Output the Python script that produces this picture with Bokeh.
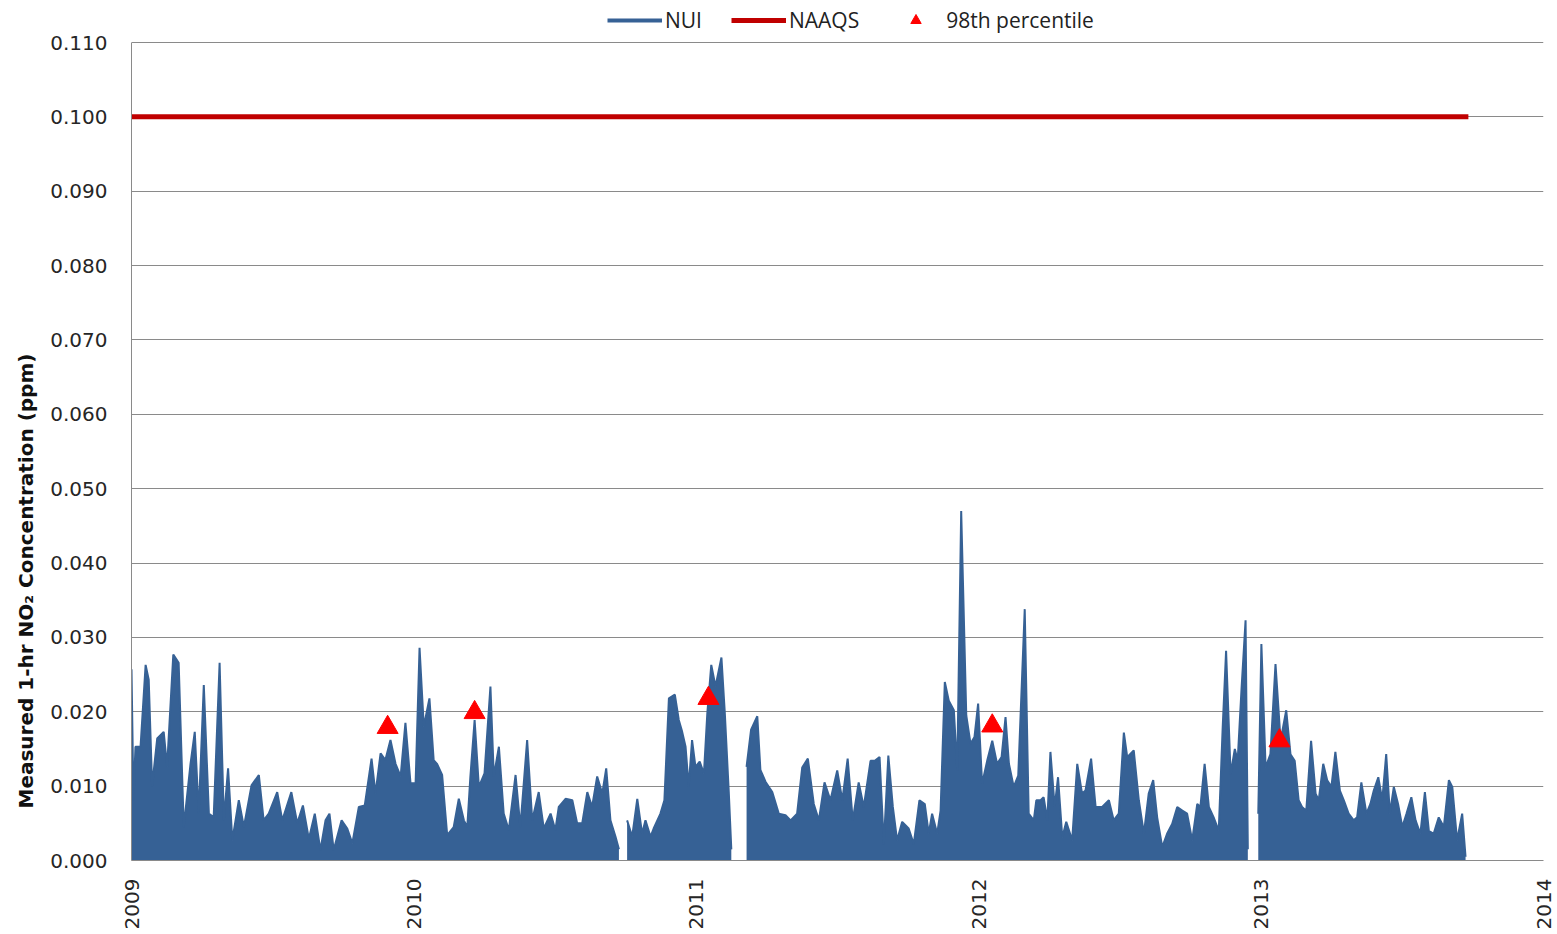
import numpy as np
from bokeh.plotting import figure
from bokeh.models import (Range1d, FixedTicker, NumeralTickFormatter, Legend, LegendItem,
                          Title, ColumnDataSource)
from bokeh.embed import file_html
from bokeh.resources import INLINE

# ---------------- data ----------------
# NUI 1-hr NO2 (ppm); x = years since 2009-01-01; four continuous stretches of record
nui_t_a = [0.000, 0.007, 0.014, 0.032, 0.050, 0.061, 0.073, 0.091, 0.114, 0.126, 0.148, 0.167, 0.185, 0.209,
           0.224, 0.238, 0.256, 0.274, 0.291, 0.312, 0.327, 0.342, 0.357, 0.380, 0.398, 0.425, 0.451, 0.468,
           0.486, 0.516, 0.534, 0.566, 0.587, 0.607, 0.628, 0.649, 0.669, 0.687, 0.701, 0.716, 0.744, 0.764,
           0.782, 0.805, 0.826, 0.850, 0.864, 0.882, 0.899, 0.917, 0.935, 0.953, 0.970, 0.988, 1.006, 1.020,
           1.035, 1.055, 1.070, 1.082, 1.100, 1.118, 1.141, 1.159, 1.177, 1.189, 1.200, 1.215, 1.230, 1.250,
           1.271, 1.283, 1.301, 1.318, 1.336, 1.360, 1.377, 1.401, 1.419, 1.442, 1.460, 1.484, 1.501, 1.513,
           1.537, 1.561, 1.578, 1.596, 1.614, 1.631, 1.649, 1.667, 1.681, 1.696, 1.714, 1.726]
nui_v_a = [0.0257, 0.008, 0.0153, 0.0153, 0.0263, 0.0243, 0.010, 0.0164, 0.0173, 0.0126, 0.0277, 0.0266,
           0.0045, 0.013, 0.0173, 0.0063, 0.0236, 0.0063, 0.0058, 0.0266, 0.0054, 0.0124, 0.0027, 0.0081,
           0.0045, 0.0101, 0.0115, 0.0054, 0.0063, 0.0092, 0.0054, 0.0092, 0.005, 0.0074, 0.0029, 0.0063,
           0.0014, 0.0054, 0.0063, 0.0014, 0.0054, 0.0043, 0.0023, 0.0072, 0.0074, 0.0137, 0.009, 0.0144,
           0.0135, 0.0162, 0.013, 0.0113, 0.0185, 0.0104, 0.0104, 0.0286, 0.018, 0.0218, 0.0135, 0.013,
           0.0115, 0.0034, 0.0045, 0.0083, 0.0054, 0.0045, 0.0113, 0.0189, 0.0099, 0.0117, 0.0234, 0.0113,
           0.0153, 0.0063, 0.0041, 0.0115, 0.0045, 0.0162, 0.0054, 0.0092, 0.0043, 0.0063, 0.0041, 0.0072,
           0.0083, 0.0081, 0.005, 0.005, 0.0092, 0.0072, 0.0113, 0.009, 0.0124, 0.0054, 0.0032, 0.0015]

nui_t_b = [1.755, 1.773, 1.791, 1.808, 1.820, 1.838, 1.849, 1.873, 1.887, 1.903, 1.924, 1.938, 1.950, 1.962,
           1.973, 1.985, 1.997, 2.012, 2.027, 2.039, 2.053, 2.068, 2.089, 2.101, 2.115, 2.124]
nui_v_b = [0.0054, 0.0032, 0.0083, 0.0036, 0.0054, 0.0032, 0.0043, 0.0063, 0.0081, 0.0218, 0.0223, 0.0189,
           0.0173, 0.0153, 0.0099, 0.0162, 0.0126, 0.0133, 0.0117, 0.0198, 0.0263, 0.0234, 0.0273, 0.0198,
           0.0092, 0.0015]

nui_t_c = [2.178, 2.194, 2.216, 2.227, 2.245, 2.269, 2.292, 2.316, 2.334, 2.357, 2.375, 2.395, 2.416, 2.434,
           2.454, 2.475, 2.499, 2.517, 2.536, 2.554, 2.575, 2.593, 2.617, 2.632, 2.649, 2.664, 2.680, 2.696,
           2.711, 2.729, 2.752, 2.770, 2.790, 2.809, 2.823, 2.835, 2.853, 2.865, 2.880, 2.894, 2.912, 2.924,
           2.938, 2.956, 2.971, 2.985, 2.998, 3.012, 3.030, 3.048, 3.065, 3.081, 3.095, 3.107, 3.124, 3.140,
           3.163, 3.177, 3.195, 3.204, 3.219, 3.230, 3.243, 3.254, 3.269, 3.281, 3.296, 3.310, 3.331, 3.349,
           3.366, 3.378, 3.398, 3.414, 3.437, 3.461, 3.478, 3.496, 3.514, 3.526, 3.549, 3.567, 3.585, 3.602,
           3.618, 3.632, 3.650, 3.667, 3.685, 3.703, 3.721, 3.738, 3.756, 3.774, 3.785, 3.800, 3.815, 3.832,
           3.850, 3.864, 3.876, 3.892, 3.907, 3.917, 3.931, 3.945, 3.953]
nui_v_c = [0.0126, 0.0176, 0.0194, 0.0122, 0.0106, 0.0092, 0.0063, 0.0061, 0.0054, 0.0063, 0.0125, 0.0137,
           0.0076, 0.0054, 0.0105, 0.0081, 0.0121, 0.0081, 0.0137, 0.0054, 0.0105, 0.0072, 0.0134, 0.0134,
           0.0139, 0.0022, 0.0141, 0.0072, 0.0027, 0.0052, 0.0043, 0.0022, 0.0081, 0.0076, 0.0036, 0.0063,
           0.0036, 0.0067, 0.024, 0.0215, 0.0202, 0.0121, 0.047, 0.0195, 0.0157, 0.0166, 0.0211, 0.0103,
           0.0134, 0.0161, 0.013, 0.0139, 0.0193, 0.013, 0.0099, 0.0114, 0.0338, 0.0063, 0.0054, 0.0081,
           0.0081, 0.0085, 0.0054, 0.0146, 0.0072, 0.0112, 0.0031, 0.0052, 0.0027, 0.013, 0.009, 0.0094,
           0.0137, 0.0072, 0.0072, 0.0081, 0.0054, 0.0063, 0.0172, 0.0139, 0.0148, 0.0081, 0.0036, 0.009,
           0.0108, 0.0058, 0.0018, 0.0036, 0.0049, 0.0072, 0.0067, 0.0063, 0.0027, 0.0076, 0.0072, 0.013,
           0.0072, 0.0058, 0.004, 0.0179, 0.0282, 0.0116, 0.015, 0.0134, 0.0233, 0.0323, 0.0015]

nui_t_d = [3.990, 4.001, 4.016, 4.033, 4.051, 4.069, 4.089, 4.104, 4.119, 4.133, 4.145, 4.160, 4.177, 4.193,
           4.204, 4.220, 4.234, 4.249, 4.263, 4.279, 4.293, 4.310, 4.328, 4.340, 4.355, 4.373, 4.387, 4.399,
           4.415, 4.429, 4.443, 4.456, 4.470, 4.485, 4.500, 4.515, 4.532, 4.547, 4.564, 4.580, 4.594, 4.611,
           4.629, 4.647, 4.665, 4.677, 4.694, 4.712, 4.724]
nui_v_d = [0.0063, 0.0291, 0.0125, 0.0143, 0.0264, 0.0161, 0.0202, 0.0143, 0.0134, 0.0081, 0.0072, 0.0067,
           0.0161, 0.009, 0.0081, 0.013, 0.0108, 0.0099, 0.0146, 0.0094, 0.0081, 0.0063, 0.0054, 0.0058,
           0.0105, 0.0063, 0.0076, 0.0094, 0.0112, 0.0081, 0.0143, 0.0063, 0.0099, 0.0076, 0.0045, 0.0063,
           0.0085, 0.0054, 0.0036, 0.0092, 0.004, 0.0036, 0.0058, 0.0045, 0.0108, 0.0099, 0.0027, 0.0063,
           0.0005]

# NAAQS standard (ppm) and its span
naaqs_years = [2009.0, 2013.734]
naaqs_ppm = [0.100, 0.100]

# annual 98th percentile values
p98_years = [2009.907, 2010.215, 2011.043, 2012.048, 2013.065]
p98_ppm = [0.0179, 0.0199, 0.0218, 0.0181, 0.0161]

year_ticks = [2009, 2010, 2011, 2012, 2013, 2014]
ppm_ticks = [0.0, 0.01, 0.02, 0.03, 0.04, 0.05, 0.06, 0.07, 0.08, 0.09, 0.10, 0.11]

# ---------------- figure ----------------
BLUE = "#366195"
RED = "#c00000"
FONT = "DejaVu Sans"

# the frame reaches the top of the canvas so that the legend (drawn inside it) sits above 0.110
FRAME_BOTTOM = 860          # px from canvas top
AXIS_TOP_PX = 42            # where 0.110 must land
y_end = 0.110 * FRAME_BOTTOM / (FRAME_BOTTOM - AXIS_TOP_PX)

p = figure(width=1557, height=934, output_backend="svg", toolbar_location=None,
           x_range=Range1d(2009, 2014), y_range=Range1d(0, y_end),
           min_border_left=131, min_border_right=14, min_border_top=0, min_border_bottom=74)
p.outline_line_color = None
p.background_fill_color = "white"

nui_lines = []
segments = [(nui_t_a, nui_v_a), (nui_t_b, nui_v_b), (nui_t_c, nui_v_c), (nui_t_d, nui_v_d)]
for t, v in segments:
    x = 2009 + np.array(t)
    src = ColumnDataSource(dict(x=x, y=np.array(v), z=np.zeros(len(v))))
    p.varea(x="x", y1="z", y2="y", source=src, fill_color=BLUE, fill_alpha=1.0)
    nui_lines.append(p.line(x="x", y="y", source=src, line_color=BLUE, line_width=2))

naaqs_r = p.line(naaqs_years, naaqs_ppm, line_color=RED, line_width=5)
p98_r = p.scatter(p98_years, p98_ppm, marker="triangle", size=21, fill_color="#ff0000", line_color="#ff0000")

# hidden proxy so the legend shows the NUI line a little thicker, as in the original
nui_proxy = p.line(2009 + np.array(nui_t_a), nui_v_a, line_color=BLUE, line_width=4, visible=False)

legend = Legend(items=[LegendItem(label="NUI", renderers=[nui_proxy]),
                       LegendItem(label="NAAQS", renderers=[naaqs_r]),
                       LegendItem(label="98th percentile", renderers=[p98_r])],
                orientation="horizontal", location=(476, FRAME_BOTTOM - 34),
                glyph_width=55, glyph_height=26, label_standoff=3, spacing=29,
                padding=2, margin=0, border_line_color=None, background_fill_alpha=0,
                inactive_fill_alpha=0,
                label_text_font="Open Sans", label_text_font_size="21px", label_text_color="#222222")
p.add_layout(legend, "center")

# axes
p.xaxis.ticker = FixedTicker(ticks=year_ticks)
p.xaxis.major_label_orientation = np.pi / 2
p.xaxis.major_label_text_font = FONT
p.xaxis.major_label_text_font_size = "20px"
p.xaxis.major_label_text_color = "#262626"
p.xaxis.major_label_standoff = 18
p.xaxis.major_tick_out = 0
p.xaxis.major_tick_in = 0
p.xaxis.major_tick_line_color = None
p.xaxis.minor_tick_line_color = None
p.xaxis.axis_line_color = "#8a8a8a"

p.yaxis.ticker = FixedTicker(ticks=ppm_ticks)
p.yaxis.formatter = NumeralTickFormatter(format="0.000")
p.yaxis.bounds = (0, 0.110)
p.yaxis.major_label_text_font = FONT
p.yaxis.major_label_text_font_size = "20px"
p.yaxis.major_label_text_color = "#262626"
p.yaxis.major_label_standoff = 24
p.yaxis.major_tick_out = 0
p.yaxis.major_tick_in = 0
p.yaxis.major_tick_line_color = None
p.yaxis.minor_tick_line_color = None
p.yaxis.axis_line_color = "#8a8a8a"

p.xgrid.grid_line_color = None
p.ygrid.grid_line_color = "#8a8a8a"
p.ygrid.grid_line_width = 1

ylab = Title(text="Measured 1-hr NO\u2082 Concentration (ppm)", align="left", offset=52, standoff=20,
             text_font=FONT, text_font_size="20px", text_font_style="bold", text_color="#111111")
p.add_layout(ylab, "left")

open("out.html", "w").write(file_html(p, INLINE))
